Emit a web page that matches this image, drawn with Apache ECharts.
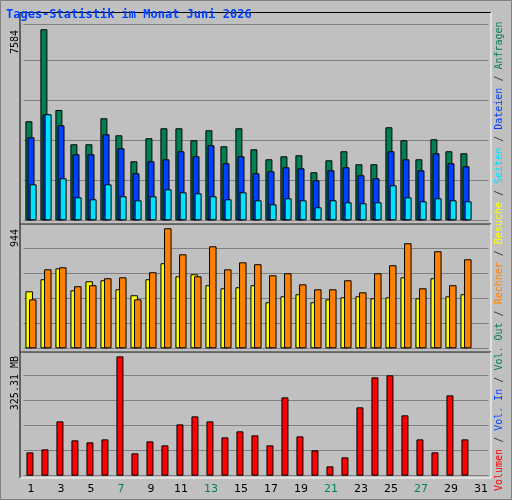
<!DOCTYPE html>
<html><head><meta charset="utf-8">
<script src="https://cdn.jsdelivr.net/npm/echarts@6/dist/echarts.min.js"></script>
<style>html,body{margin:0;padding:0;background:#c0c0c0}#c{width:512px;height:500px}</style>
</head><body><div id="c"></div>
<script>
const days = ['1','2','3','4','5','6','7','8','9','10','11','12','13','14','15','16','17','18','19','20','21','22','23','24','25','26','27','28','29','30','31'];
const weekend = ['6','7','13','14','20','21','27','28'];
const anfragen = [3931,7584,4381,3018,3018,4050,3375,2343,3256,3653,3653,3177,3574,2938,3653,2819,2422,2541,2581,1906,2382,2740,2224,2224,3693,3177,2422,3216,2740,2660,null];
const dateien = [3296,4209,3772,2621,2621,3415,2859,1866,2343,2422,2740,2541,2978,2263,2541,1866,1946,2105,2065,1588,1985,2105,1787,1668,2740,2422,1985,2660,2263,2144,null];
const seiten = [1429,4209,1668,913,834,1429,953,794,953,1231,1112,1072,953,834,1112,794,635,874,794,516,794,715,675,715,1390,913,754,874,794,754,null];
const besuche = [448,543,629,456,527,535,464,417,543,669,566,582,496,472,480,496,362,409,425,362,385,401,409,393,401,558,393,551,409,425,null];
const rechner = [385,621,637,488,496,551,558,385,598,944,739,566,802,621,676,661,574,590,503,464,464,535,440,590,653,826,472,763,496,700,null];
const volumen = [63.6,71.8,148.1,96.3,90.9,99.0,325.3,60.9,93.6,82.7,139.9,161.7,148.1,104.5,120.9,110.0,82.7,213.5,107.2,69.1,25.4,50.0,186.3,268.1,273.5,164.5,99.0,63.6,219.0,99.0,null];

const mono = 'DejaVu Sans Mono';
const grids = [
  {left:23.5, width:465, top:24.3, height:196},
  {left:23.5, width:465, top:224.3, height:124},
  {left:23.5, width:465, top:352.7, height:123}
];
function xa(i, show){
  return {type:'category', gridIndex:i, data:days, boundaryGap:true,
    axisLine:{show:false}, axisTick:{show:false},
    axisLabel:{show:show, margin:8, fontFamily:'DejaVu Sans', fontSize:11,
      color:function(v){return weekend.indexOf(v)>=0?'#008060':'#000';}}};
}
function ya(i, max, interval){
  return {type:'value', gridIndex:i, min:0, max:max, interval:interval,
    axisLabel:{show:false}, axisLine:{show:false}, axisTick:{show:false},
    splitLine:{show:true, lineStyle:{color:'#808080', width:1}}};
}
const bs = (c)=>({color:c, borderColor:'#000', borderWidth:1});
function panel(y1,y2){
  return [
    {type:'line', shape:{x1:20,y1:y1,x2:491,y2:y1}, style:{stroke:'#000',lineWidth:1}, z:50},
    {type:'line', shape:{x1:20,y1:y1,x2:20,y2:y2}, style:{stroke:'#000',lineWidth:1}, z:50},
    {type:'line', shape:{x1:491,y1:y1,x2:491,y2:y2}, style:{stroke:'#fff',lineWidth:1}, z:50},
    {type:'line', shape:{x1:20,y1:y2,x2:491,y2:y2}, style:{stroke:'#fff',lineWidth:1}, z:50}
  ];
}
const sep = {color:'#404040'};
const chart = echarts.init(document.getElementById('c'));
chart.setOption({
  backgroundColor:'#c0c0c0',
  animation:false,
  grid:grids,
  xAxis:[xa(0,false), xa(1,false), xa(2,true)],
  yAxis:[ya(0,7781,1588), ya(1,975,196.6), ya(2,335.3,68.15)],
  series:[
    {type:'bar', xAxisIndex:0, yAxisIndex:0, data:anfragen, barWidth:7, barGap:'-70%', itemStyle:bs('#008050')},
    {type:'bar', xAxisIndex:0, yAxisIndex:0, data:dateien, barWidth:7, barGap:'-70%', itemStyle:bs('#0040ff')},
    {type:'bar', xAxisIndex:0, yAxisIndex:0, data:seiten, barWidth:7, barGap:'-70%', itemStyle:bs('#00e0ff')},
    {type:'bar', xAxisIndex:1, yAxisIndex:1, data:besuche, barWidth:7.5, barGap:'-52%', itemStyle:bs('#ffff00')},
    {type:'bar', xAxisIndex:1, yAxisIndex:1, data:rechner, barWidth:7.5, barGap:'-52%', itemStyle:bs('#ff8000')},
    {type:'bar', xAxisIndex:2, yAxisIndex:2, data:volumen, barWidth:7, barGap:'-70%', itemStyle:bs('#ff0000')},
    {type:'bar', xAxisIndex:2, yAxisIndex:2, data:[], barWidth:7, barGap:'-70%'}
  ],
  graphic:[
    {type:'rect', shape:{x:0.5,y:0.5,width:511,height:499}, style:{fill:'none',stroke:'#808080',lineWidth:1}, z:40},
    {type:'text', x:6, y:9, style:{text:'Tages-Statistik im Monat Juni 2026', font:'bold 12px '+mono, fill:'#0040ff'}, z:60},
    {type:'text', x:15, y:30, rotation:Math.PI/2, style:{text:'7584', font:'10px '+mono, fill:'#000', align:'right', verticalAlign:'middle'}, z:60},
    {type:'text', x:15, y:229, rotation:Math.PI/2, style:{text:'944', font:'10px '+mono, fill:'#000', align:'right', verticalAlign:'middle'}, z:60},
    {type:'text', x:15, y:356, rotation:Math.PI/2, style:{text:'325.31 MB', font:'10px '+mono, fill:'#000', align:'right', verticalAlign:'middle'}, z:60},
    {type:'text', x:499, y:491, rotation:Math.PI/2, style:{
      text:'{r|Volumen}{s| / }{b|Vol. In}{s| / }{g|Vol. Out}{s| / }{o|Rechner}{s| / }{y|Besuche}{s| / }{c|Seiten}{s| / }{b|Dateien}{s| / }{g|Anfragen}',
      font:'10px '+mono, verticalAlign:'middle',
      rich:{r:{fill:'#ff0000',font:'10px '+mono}, b:{fill:'#0040ff',font:'10px '+mono}, g:{fill:'#008050',font:'10px '+mono},
            o:{fill:'#ff8000',font:'10px '+mono}, y:{fill:'#ffff00',font:'10px '+mono}, c:{fill:'#00e0ff',font:'10px '+mono}, s:{fill:'#404040',font:'10px '+mono}}
    }, z:60}
  ].concat(panel(12.5,224), panel(224,352), panel(352,478))
});
</script></body></html>
